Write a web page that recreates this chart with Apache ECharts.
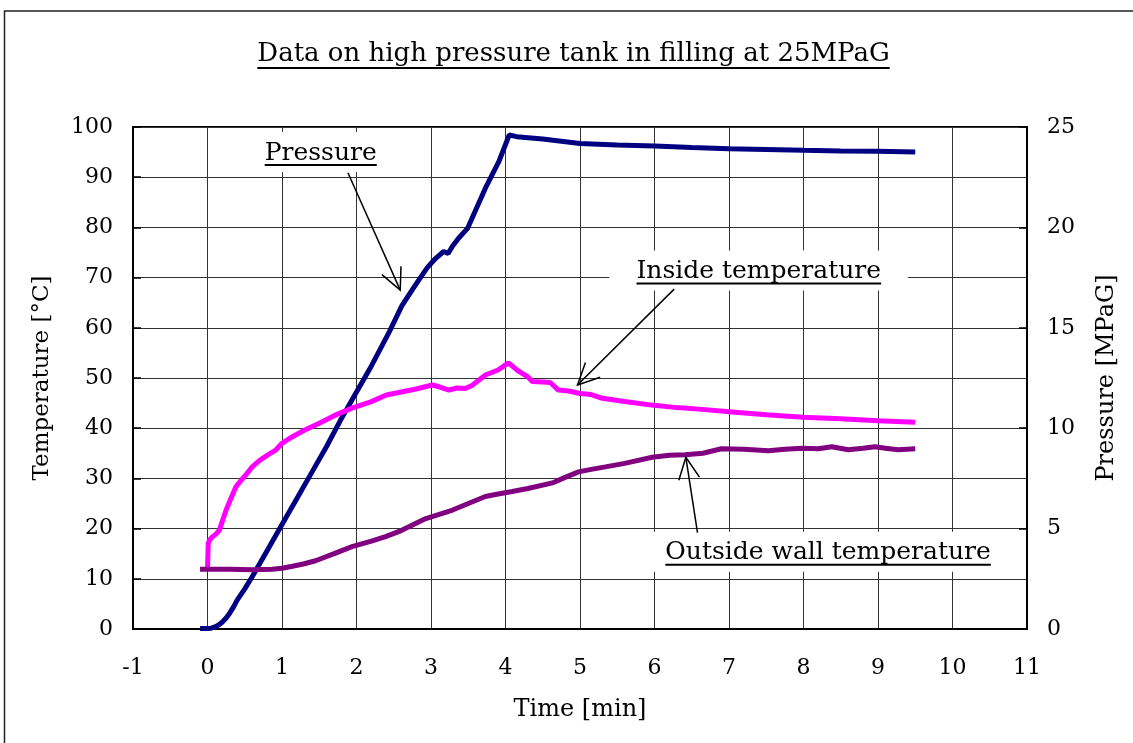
<!DOCTYPE html>
<html><head><meta charset="utf-8">
<script src="https://cdn.jsdelivr.net/npm/echarts@6/dist/echarts.min.js"></script>
<style>html,body{margin:0;padding:0;background:#fff}#c{width:1133px;height:743px}</style>
</head><body><div id="c"></div>
<script>
// ---- data ----
const chartTitle = 'Data on high pressure tank in filling at 25MPaG';
const xAxisName = 'Time [min]';
const leftAxisName = 'Temperature [\u00B0C]';
const rightAxisName = 'Pressure [MPaG]';

const pressureTime = [-0.1, 0.0, 0.05, 0.1, 0.15, 0.2, 0.25, 0.3, 0.35, 0.4, 0.5, 0.6, 0.8, 1.0, 1.2, 1.4, 1.6, 1.8, 2.0, 2.2, 2.44, 2.61, 2.75, 2.84, 2.95, 3.06, 3.17, 3.23, 3.29, 3.37, 3.49, 3.6, 3.73, 3.91, 4.05, 4.15, 4.5, 5.0, 5.5, 6.0, 6.5, 7.0, 7.5, 8.0, 8.5, 9.0, 9.5];
const pressureValue = [0.02, 0.02, 0.04, 0.1, 0.2, 0.35, 0.55, 0.8, 1.1, 1.45, 2.0, 2.6, 3.9, 5.2, 6.5, 7.8, 9.1, 10.5, 11.8, 13.1, 14.8, 16.1, 16.9, 17.4, 18.0, 18.45, 18.8, 18.7, 19.07, 19.46, 19.95, 20.87, 21.95, 23.27, 24.6, 24.52, 24.4, 24.18, 24.1, 24.05, 23.98, 23.92, 23.88, 23.84, 23.81, 23.79, 23.75];

const insideTime = [0.0, 0.01, 0.03, 0.07, 0.12, 0.16, 0.2, 0.25, 0.3, 0.38, 0.45, 0.52, 0.6, 0.7, 0.8, 0.92, 1.0, 1.14, 1.3, 1.5, 1.7, 1.94, 2.2, 2.4, 2.6, 2.8, 3.02, 3.12, 3.24, 3.35, 3.46, 3.55, 3.73, 3.9, 4.04, 4.18, 4.3, 4.36, 4.5, 4.6, 4.71, 4.85, 5.0, 5.15, 5.3, 5.6, 5.96, 6.3, 6.6, 7.0, 7.5, 8.0, 8.5, 9.0, 9.5];
const insideValue = [12, 17.1, 17.8, 18.4, 19.0, 19.7, 21.5, 23.7, 25.5, 28.3, 29.6, 30.8, 32.3, 33.6, 34.6, 35.7, 37.0, 38.3, 39.6, 41.0, 42.5, 44.0, 45.3, 46.6, 47.2, 47.8, 48.6, 48.2, 47.6, 48.0, 47.9, 48.5, 50.6, 51.6, 53.0, 51.3, 50.2, 49.3, 49.2, 49.1, 47.6, 47.4, 46.9, 46.7, 45.95, 45.3, 44.6, 44.1, 43.8, 43.3, 42.7, 42.2, 41.9, 41.5, 41.2];

const outsideTime = [-0.1, 0.3, 0.6, 0.87, 1.0, 1.14, 1.3, 1.45, 1.7, 1.94, 2.2, 2.39, 2.6, 2.93, 3.1, 3.29, 3.5, 3.73, 3.9, 4.09, 4.3, 4.63, 4.8, 4.98, 5.15, 5.34, 5.6, 5.97, 6.2, 6.41, 6.65, 6.9, 7.2, 7.53, 7.75, 7.98, 8.2, 8.38, 8.6, 8.8, 8.96, 9.1, 9.27, 9.5];
const outsideValue = [11.9, 11.9, 11.8, 11.9, 12.1, 12.5, 13.0, 13.6, 15.0, 16.4, 17.5, 18.4, 19.6, 22.0, 22.8, 23.7, 25.0, 26.4, 26.9, 27.4, 28.0, 29.1, 30.2, 31.3, 31.8, 32.3, 33.0, 34.2, 34.6, 34.7, 35.0, 35.9, 35.8, 35.5, 35.8, 36.0, 35.9, 36.3, 35.7, 36.0, 36.3, 36.0, 35.7, 35.9];

// annotations (in data units: time, temperature)
const labelTexts = ['Pressure', 'Inside temperature', 'Outside wall temperature'];
const labelAnchor = [[1.52, 94.8], [7.40, 71.2], [8.33, 15.2]];
const arrowFrom = [[1.885, 90.9], [6.264, 67.7], [6.577, 19.2]];
const arrowTo = [[2.587, 67.5], [4.966, 48.6], [6.421, 34.2]];

// ---- styles ----
const FONT = '"DejaVu Serif", "Liberation Serif", serif';
const labelFontSize = 25;
const labelPad = [12, 27, 26];
const measureCtx = document.createElement('canvas').getContext('2d');
function textWidth(t, size) { measureCtx.font = size + 'px ' + FONT; return measureCtx.measureText(t).width; }

const zip = (a, b) => a.map((v, i) => [v, b[i]]);

const chart = echarts.init(document.getElementById('c'), null, {renderer: 'canvas'});

const titleSize = 26;
const titleW = textWidth(chartTitle, titleSize);

const option = {
  animation: false,
  backgroundColor: '#fff',
  textStyle: {fontFamily: FONT},
  grid: {left: 133, right: 106, top: 127, bottom: 114, show: true, borderColor: '#000', borderWidth: 2, backgroundColor: 'transparent'},
  graphic: [
    {type: 'rect', shape: {x: 4.5, y: 11, width: 1200, height: 800}, style: {fill: null, stroke: '#222', lineWidth: 1.5}, silent: true},
    {type: 'text', x: 573.5, y: 54, style: {text: chartTitle, font: titleSize + 'px ' + FONT, fill: '#000', align: 'center', verticalAlign: 'middle'}},
    {type: 'line', shape: {x1: 573.5 - titleW / 2, y1: 68, x2: 573.5 + titleW / 2, y2: 68}, style: {stroke: '#000', lineWidth: 2}}
  ],
  xAxis: {
    type: 'value', min: -1, max: 11, interval: 1,
    name: xAxisName, nameLocation: 'middle', nameGap: 69,
    nameTextStyle: {fontFamily: FONT, fontSize: 24, color: '#000'},
    axisLine: {show: true, onZero: false, lineStyle: {color: '#000', width: 2}},
    axisTick: {show: false},
    axisLabel: {fontFamily: FONT, fontSize: 22, color: '#000', margin: 28},
    splitLine: {show: true, lineStyle: {color: '#333', width: 1}}
  },
  yAxis: [
    {
      type: 'value', min: 0, max: 100, interval: 10,
      name: leftAxisName, nameLocation: 'middle', nameGap: 79, nameRotate: 90,
      nameTextStyle: {fontFamily: FONT, fontSize: 23, color: '#000'},
      axisLine: {show: true, onZero: false, lineStyle: {color: '#000', width: 2}},
      axisTick: {show: true, inside: true, length: 8, lineStyle: {color: '#000', width: 1.5}},
      axisLabel: {fontFamily: FONT, fontSize: 22, color: '#000', margin: 20},
      splitLine: {show: true, lineStyle: {color: '#333', width: 1}}
    },
    {
      type: 'value', min: 0, max: 25, interval: 5, position: 'right',
      name: rightAxisName, nameLocation: 'middle', nameGap: 68, nameRotate: 90,
      nameTextStyle: {fontFamily: FONT, fontSize: 24, color: '#000'},
      axisLine: {show: true, onZero: false, lineStyle: {color: '#000', width: 2}},
      axisTick: {show: true, inside: true, length: 8, lineStyle: {color: '#000', width: 1.5}},
      axisLabel: {fontFamily: FONT, fontSize: 22, color: '#000', margin: 20},
      splitLine: {show: false}
    }
  ],
  series: [
    {
      type: 'custom', name: 'labels', z: 1, clip: false, silent: true,
      xAxisIndex: 0, yAxisIndex: 0,
      data: labelAnchor,
      renderItem: function (params, api) {
        const c = api.coord([api.value(0), api.value(1)]);
        const t = labelTexts[params.dataIndex];
        const w = textWidth(t, labelFontSize);
        const p = labelPad[params.dataIndex];
        return {type: 'group', children: [
          {type: 'rect', shape: {x: c[0] - w / 2 - p, y: c[1] - 21, width: w + 2 * p, height: 40}, style: {fill: '#fff'}},
          {type: 'text', style: {text: t, x: c[0], y: c[1], align: 'center', verticalAlign: 'middle', font: labelFontSize + 'px ' + FONT, fill: '#000'}},
          {type: 'line', shape: {x1: c[0] - w / 2, y1: c[1] + 12, x2: c[0] + w / 2, y2: c[1] + 12}, style: {stroke: '#000', lineWidth: 2}}
        ]};
      }
    },
    {
      type: 'line', name: 'Pressure', yAxisIndex: 1, showSymbol: false, z: 3,
      data: zip(pressureTime, pressureValue),
      lineStyle: {color: '#000080', width: 5}
    },
    {
      type: 'line', name: 'Inside temperature', yAxisIndex: 0, showSymbol: false, z: 3,
      data: zip(insideTime, insideValue),
      lineStyle: {color: '#FF00FF', width: 5}
    },
    {
      type: 'line', name: 'Outside wall temperature', yAxisIndex: 0, showSymbol: false, z: 3,
      data: zip(outsideTime, outsideValue),
      lineStyle: {color: '#800080', width: 5}
    },
    {
      type: 'custom', name: 'arrows', z: 4, clip: false, silent: true,
      xAxisIndex: 0, yAxisIndex: 0,
      encode: {x: [0, 2], y: [1, 3]},
      data: arrowFrom.map((f, i) => [f[0], f[1], arrowTo[i][0], arrowTo[i][1]]),
      renderItem: function (params, api) {
        const a = api.coord([api.value(0), api.value(1)]);
        const b = api.coord([api.value(2), api.value(3)]);
        const ang = Math.atan2(a[1] - b[1], a[0] - b[0]);
        const L = 24, h = 0.45;
        const p1 = [b[0] + L * Math.cos(ang + h), b[1] + L * Math.sin(ang + h)];
        const p2 = [b[0] + L * Math.cos(ang - h), b[1] + L * Math.sin(ang - h)];
        return {type: 'group', children: [
          {type: 'line', shape: {x1: a[0], y1: a[1], x2: b[0], y2: b[1]}, style: {stroke: '#000', lineWidth: 1.5}},
          {type: 'polyline', shape: {points: [p1, b, p2]}, style: {stroke: '#000', lineWidth: 1.5, fill: null}}
        ]};
      }
    }
  ]
};
chart.setOption(option);
</script>
</body></html>
